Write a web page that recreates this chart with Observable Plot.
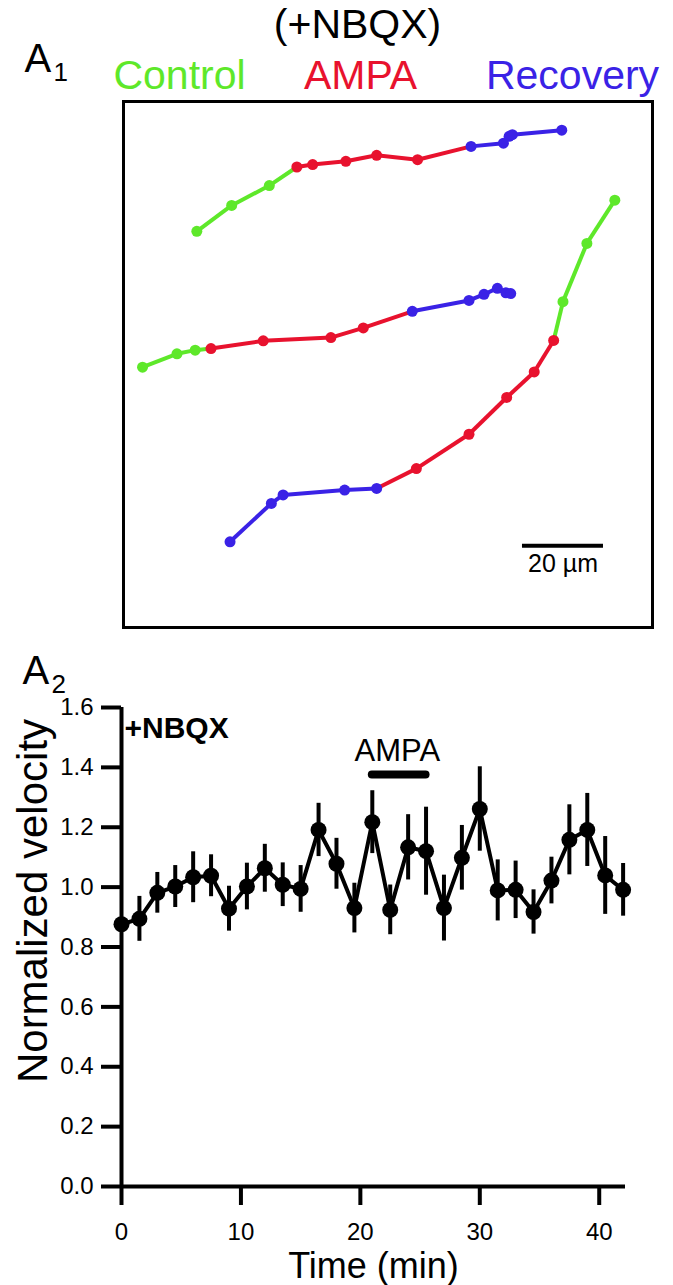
<!DOCTYPE html>
<html><head><meta charset="utf-8">
<script src="https://cdn.jsdelivr.net/npm/d3@7"></script>
<script src="https://cdn.jsdelivr.net/npm/@observablehq/plot@0.6"></script>
<style>
body{margin:0;background:#fff;}
#wrap{position:relative;width:673px;height:1285px;overflow:hidden;background:#fff}
#a1,#a2{position:absolute;left:0}
#a1{top:0}
#a2{top:640px}
svg{font-family:"Liberation Sans",Arial,sans-serif;overflow:visible}
</style></head><body>
<div id="wrap"><div id="a1"></div><div id="a2"></div></div>
<script>
// ---------- Panel A1: growth-cone tracks (µm) ----------
const phases = ["Control", "AMPA", "Recovery"];
const phaseColors = ["#5ee82a", "#e8122e", "#3a22e6"];

const track1X = [18.1, 26.7, 36.0, 42.8, 46.7, 54.9, 62.5, 72.6, 85.8, 93.8, 95.2, 96.0, 108.2];
const track1Y = [98.0, 104.4, 109.3, 113.9, 114.5, 115.3, 116.8, 115.7, 119.0, 119.8, 121.5, 121.9, 123.0];
const track1Phase = [0, 0, 0, 1, 1, 1, 1, 1, 2, 2, 2, 2, 2];

const track2X = [4.7, 13.2, 17.7, 21.6, 34.5, 51.2, 59.2, 71.3, 85.3, 89.0, 92.3, 94.4, 95.6];
const track2Y = [64.4, 67.7, 68.6, 69.0, 70.9, 71.7, 74.1, 78.2, 80.9, 82.4, 83.9, 82.8, 82.6];
const track2Phase = [0, 0, 0, 1, 1, 1, 1, 2, 2, 2, 2, 2, 2];

const track3X = [121.3, 114.4, 108.5, 106.2, 101.4, 94.6, 85.3, 72.3, 62.5, 54.6, 39.4, 36.5, 26.3];
const track3Y = [105.7, 95.0, 80.6, 71.0, 63.2, 56.9, 47.8, 39.3, 34.4, 34.0, 32.8, 30.7, 21.2];
const track3Phase = [0, 0, 0, 1, 1, 1, 1, 1, 2, 2, 2, 2, 2];

const fieldWidthUm = 130.6;
const fieldHeightUm = 130.1;
const scaleBarUm = 20;
const scaleBarLabel = "20 µm";
const panelTitle = "(+NBQX)";

// ---------- Panel A2: normalized velocity ----------
const timeMin = [0, 1.5, 3, 4.5, 6, 7.5, 9, 10.5, 12, 13.5, 15, 16.5, 18, 19.5, 21, 22.5, 24, 25.5, 27, 28.5, 30, 31.5, 33, 34.5, 36, 37.5, 39, 40.5, 42];
const velocity = [0.876, 0.894, 0.981, 1.002, 1.033, 1.038, 0.928, 1.002, 1.063, 1.008, 0.994, 1.191, 1.078, 0.930, 1.217, 0.924, 1.133, 1.120, 0.930, 1.098, 1.261, 0.989, 0.991, 0.917, 1.022, 1.158, 1.191, 1.039, 0.991];
const velocitySem = [0.02, 0.075, 0.068, 0.07, 0.085, 0.07, 0.075, 0.078, 0.08, 0.073, 0.078, 0.089, 0.085, 0.083, 0.105, 0.083, 0.109, 0.147, 0.11, 0.108, 0.141, 0.102, 0.096, 0.074, 0.078, 0.117, 0.122, 0.13, 0.088];
const xTicks = [0, 10, 20, 30, 40];
const yTicks = [0, 0.2, 0.4, 0.6, 0.8, 1.0, 1.2, 1.4, 1.6];
const ampaStart = 21, ampaEnd = 25.5, ampaLevel = 1.376;

function buildTrack(id, xs, ys, ph) {
  const pts = xs.map((x, i) => ({track: id, i, x, y: ys[i], phase: ph[i]}));
  const segs = pts.slice(0, -1).map((p, i) => ({x1: p.x, y1: p.y, x2: pts[i + 1].x, y2: pts[i + 1].y, phase: p.phase}));
  return {pts, segs};
}
const tracks = [
  buildTrack(1, track1X, track1Y, track1Phase),
  buildTrack(2, track2X, track2Y, track2Phase),
  buildTrack(3, track3X, track3Y, track3Phase)
];
const allPts = tracks.flatMap(t => t.pts);
const allSegs = tracks.flatMap(t => t.segs);
const col = p => phaseColors[p];

const hdr = 41;
const a1 = Plot.plot({
  width: 673, height: 640,
  marginLeft: 123, marginRight: 21, marginTop: 101, marginBottom: 13,
  x: {domain: [0, fieldWidthUm], axis: null},
  y: {domain: [0, fieldHeightUm], axis: null},
  style: {fontFamily: "Liberation Sans, Arial, sans-serif", background: "white"},
  marks: [
    Plot.frame({stroke: "black", strokeWidth: 3}),
    Plot.link(allSegs, {x1: "x1", y1: "y1", x2: "x2", y2: "y2", stroke: d => col(d.phase), strokeWidth: 4}),
    Plot.dot(allPts, {x: "x", y: "y", fill: d => col(d.phase), r: 5.5, stroke: "none"}),
    Plot.ruleY([20.2], {x1: 98.5, x2: 98.5 + scaleBarUm, stroke: "black", strokeWidth: 4}),
    Plot.text([scaleBarLabel], {x: 98.5 + scaleBarUm / 2, y: 20.2, dy: 8, lineAnchor: "top", fontSize: 25, fill: "black"}),
    // headers
    Plot.text([panelTitle], {frameAnchor: "top-left", dx: 234, dy: -64, lineAnchor: "bottom", textAnchor: "middle", fontSize: hdr, fill: "black"}),
    Plot.text([phases[0]], {frameAnchor: "top-left", dx: 56, dy: -13, lineAnchor: "bottom", textAnchor: "middle", fontSize: hdr, fill: phaseColors[0]}),
    Plot.text([phases[1]], {frameAnchor: "top-left", dx: 237, dy: -13, lineAnchor: "bottom", textAnchor: "middle", fontSize: hdr, fill: phaseColors[1]}),
    Plot.text([phases[2]], {frameAnchor: "top-left", dx: 449, dy: -13, lineAnchor: "bottom", textAnchor: "middle", fontSize: hdr, fill: phaseColors[2]}),
    Plot.text(["A"], {frameAnchor: "top-left", dx: -99, dy: -30, lineAnchor: "bottom", textAnchor: "start", fontSize: 40, fill: "black"}),
    Plot.text(["1"], {frameAnchor: "top-left", dx: -70, dy: -21, lineAnchor: "bottom", textAnchor: "start", fontSize: 26, fill: "black"})
  ]
});
document.getElementById("a1").append(a1);

const vel = timeMin.map((t, i) => ({t, v: velocity[i], lo: velocity[i] - velocitySem[i], hi: velocity[i] + velocitySem[i]}));

const a2 = Plot.plot({
  width: 673, height: 645,
  marginLeft: 121, marginRight: 48, marginTop: 67, marginBottom: 99,
  x: {domain: [0, 42.2]},
  y: {domain: [0, 1.6]},
  style: {fontFamily: "Liberation Sans, Arial, sans-serif", background: "white"},
  marks: [
    Plot.axisX({ticks: xTicks, tickSize: 19, tickPadding: 17, strokeWidth: 4, fontSize: 24, label: null, fill: "black"}),
    Plot.axisY({ticks: yTicks, tickSize: 20, tickPadding: 8, strokeWidth: 4, fontSize: 24, label: null, tickFormat: d3.format(".1f"), fill: "black"}),
    Plot.ruleX([0], {stroke: "black", strokeWidth: 4}),
    Plot.ruleY([0], {stroke: "black", strokeWidth: 4}),
    Plot.ruleX(vel, {x: "t", y1: "lo", y2: "hi", stroke: "black", strokeWidth: 4}),
    Plot.line(vel, {x: "t", y: "v", stroke: "black", strokeWidth: 4}),
    Plot.dot(vel, {x: "t", y: "v", fill: "black", r: 8, stroke: "none"}),
    Plot.ruleY([ampaLevel], {x1: ampaStart, x2: ampaEnd, stroke: "black", strokeWidth: 8, strokeLinecap: "round"}),
    Plot.text(["AMPA"], {x: 23.1, y: ampaLevel, dy: -14, lineAnchor: "bottom", fontSize: 31, fill: "black"}),
    Plot.text(["+NBQX"], {frameAnchor: "top-left", dx: 3, dy: 30, lineAnchor: "bottom", textAnchor: "start", fontSize: 30, fontWeight: "bold", fill: "black"}),
    Plot.text(["Time (min)"], {frameAnchor: "bottom", dy: 91, lineAnchor: "bottom", fontSize: 36, fill: "black"}),
    Plot.text(["Normalized velocity"], {frameAnchor: "left", dx: -88, dy: -46, rotate: -90, textAnchor: "middle", lineAnchor: "middle", fontSize: 42, fill: "black"}),
    Plot.text(["A"], {frameAnchor: "top-left", dx: -99, dy: -24, lineAnchor: "bottom", textAnchor: "start", fontSize: 40, fill: "black"}),
    Plot.text(["2"], {frameAnchor: "top-left", dx: -70, dy: -15, lineAnchor: "bottom", textAnchor: "start", fontSize: 26, fill: "black"})
  ]
});
document.getElementById("a2").append(a2);
</script>
</body></html>
